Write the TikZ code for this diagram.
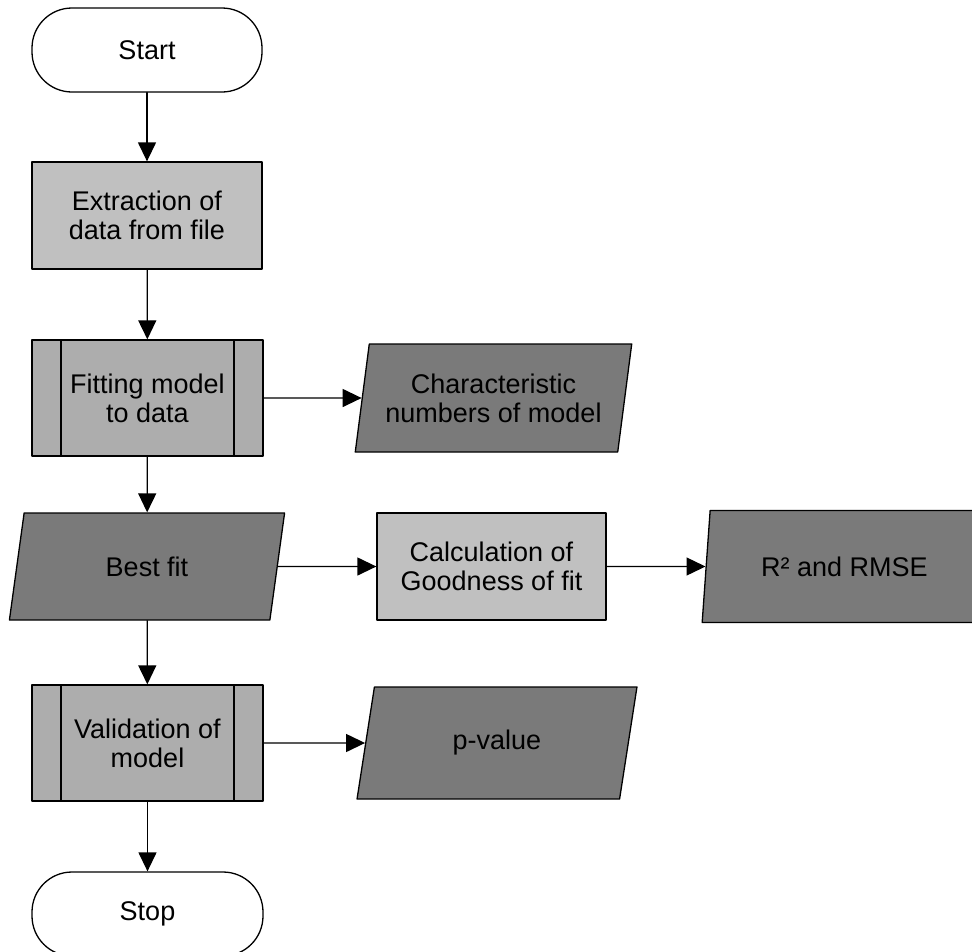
\documentclass[tikz,border=0pt]{standalone}
\usepackage{fontspec}
\setmainfont{Liberation Sans}
\usetikzlibrary{arrows.meta, shapes.geometric}
\definecolor{procgray}{HTML}{C0C0C0}
\definecolor{subgray}{HTML}{ADADAD}
\definecolor{datagray}{HTML}{7A7A7A}
\tikzset{
  >={Triangle[length=19pt, width=18pt]},
  every picture/.style={line cap=round, line join=round},
  base/.style={draw, line width=1.3pt, align=center, inner sep=0pt,
    font=\fontsize{27}{29}\selectfont},
  terminal/.style={base, rectangle, rounded corners=40pt, fill=white,
    minimum width=230pt, minimum height=84pt},
  procbox/.style={base, rectangle, fill=procgray,
    minimum width=230pt, minimum height=107pt},
  % predefined process: box with an inner bar on each side
  subproc/.style={base, rectangle, fill=subgray,
    minimum width=231pt, minimum height=116pt,
    path picture={
      \draw[line width=1.3pt]
        ([xshift=29pt]path picture bounding box.north west) -- ([xshift=29pt]path picture bounding box.south west)
        ([xshift=-29pt]path picture bounding box.north east) -- ([xshift=-29pt]path picture bounding box.south east);
    }},
  % data in/out: parallelogram leaning right
  databox/.style={base, trapezium, trapezium left angle=76, trapezium right angle=104,
    trapezium stretches=true, fill=datagray, minimum width=277pt, minimum height=108pt},
  flow/.style={->, line width=1.3pt},
}
\begin{document}
\begin{tikzpicture}[x=1pt, y=-1pt]
  \useasboundingbox (0,0) rectangle (972,951);
  \node[terminal] (start) at (147,50) {Start};
  \node[procbox] (extract) at (147,215.5) {Extraction of\\data from file};
  \node[subproc] (fitting) at (147.5,398) {Fitting model\\to data};
  \node[databox] (charnum) at (493.5,398) {Characteristic\\numbers of model};
  \node[databox, minimum width=276pt, minimum height=107pt] (bestfit) at (147,566.5) {Best fit};
  \node[procbox, minimum width=229pt] (calc) at (491.5,566.5) {Calculation of\\Goodness of fit};
  \node[databox, minimum width=285pt, minimum height=112pt] (rmse) at (844.5,566.5) {R² and RMSE};
  \node[subproc] (valid) at (147.5,743) {Validation of\\model};
  \node[databox, minimum width=280pt, minimum height=112pt] (pval) at (497,743) {p-value};
  \node[terminal, minimum width=231pt] (stop) at (147.5,914) {Stop};

  \draw[flow] (start) -- (extract);
  \draw[flow] (extract) -- (fitting);
  \draw[flow] (fitting) -- (bestfit);
  \draw[flow] (bestfit) -- (valid);
  \draw[flow] (valid) -- (stop);
  \draw[flow] (fitting.east) -- (charnum.west);
  \draw[flow] (bestfit.east) -- (calc.west);
  \draw[flow] (calc.east) -- (rmse.west);
  \draw[flow] (valid.east) -- (pval.west);
\end{tikzpicture}
\end{document}
